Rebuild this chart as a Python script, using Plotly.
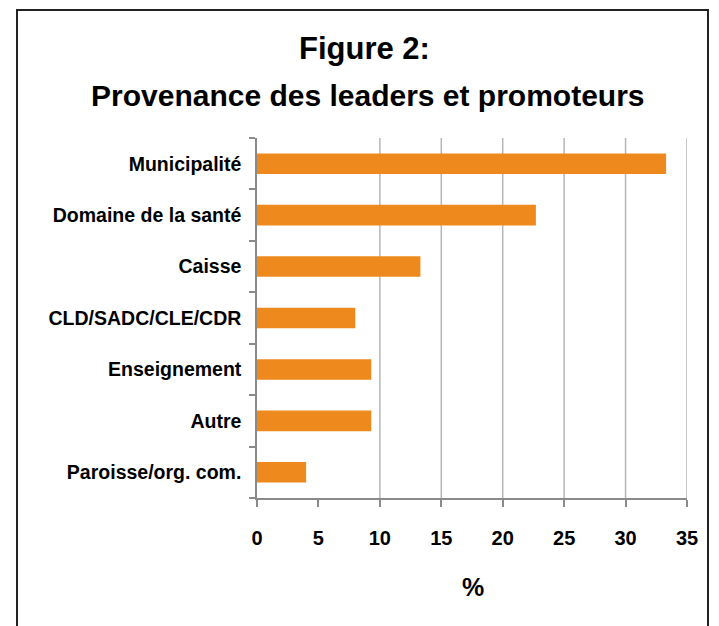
import plotly.graph_objects as go

categories = ["Municipalité", "Domaine de la santé", "Caisse", "CLD/SADC/CLE/CDR",
              "Enseignement", "Autre", "Paroisse/org. com."]
values = [33.3, 22.7, 13.3, 8.0, 9.3, 9.3, 4.0]
x_ticks = [0, 5, 10, 15, 20, 25, 30, 35]
grid_vals = [10, 15, 20, 25, 30, 35]

FONT = "Liberation Sans, Arial, sans-serif"
ORANGE = "#EE8A1D"

OFF = 8  # default page body margin
W, H = 719 - OFF, 626 - OFF
# target plot area in page pixels
PX0, PX1, PY0, PY1 = 257, 687, 138, 498
L = PX0 - OFF
R = W - (PX1 - OFF)
T = PY0 - OFF
B = H - (PY1 - OFF)
pw, ph = PX1 - PX0, PY1 - PY0

def px_x(p):
    return (p - PX0) / pw

def px_y(p):
    return (PY1 - p) / ph

fig = go.Figure(go.Bar(
    x=values, y=categories, orientation="h",
    marker=dict(color=ORANGE, line=dict(width=0)),
    width=0.4,
))

fig.update_layout(
    width=W, height=H,
    margin=dict(l=L, r=R, t=T, b=B, autoexpand=False),
    paper_bgcolor="white", plot_bgcolor="white",
    showlegend=False,
    font=dict(family=FONT, color="black"),
    xaxis=dict(
        range=[0, 35], tickvals=x_ticks, showgrid=False, zeroline=False,
        showline=True, linecolor="#8a8a8a", linewidth=1.5,
        ticks="outside", ticklen=7, tickcolor="#8a8a8a", tickwidth=1.5,
        tickfont=dict(family=FONT, size=20, color="black", weight="bold"),
        ticklabelstandoff=14, automargin=False,
    ),
    yaxis=dict(
        categoryorder="array", categoryarray=categories[::-1],
        showgrid=False, zeroline=False,
        showline=True, linecolor="#8a8a8a", linewidth=1.5,
        ticks="outside", ticklen=6, tickcolor="#8a8a8a", tickwidth=1.5,
        tickson="boundaries",
        tickfont=dict(family=FONT, size=19.5, color="black", weight="bold"),
        ticklabelstandoff=10, automargin=False,
    ),
    annotations=[
        dict(text="<b>Figure 2:</b>", x=px_x(364), y=px_y(48), xref="paper", yref="paper",
             showarrow=False, xanchor="center", yanchor="middle",
             font=dict(family=FONT, size=31, color="black")),
        dict(text="<b>Provenance des leaders et promoteurs</b>", x=px_x(368), y=px_y(95),
             xref="paper", yref="paper", showarrow=False, xanchor="center", yanchor="middle",
             font=dict(family=FONT, size=30, color="black")),
        dict(text="<b>%</b>", x=px_x(473), y=px_y(587), xref="paper", yref="paper",
             showarrow=False, xanchor="center", yanchor="middle",
             font=dict(family=FONT, size=25, color="black")),
    ],
)

for g in grid_vals:
    fig.add_vline(x=g, line=dict(color="#b5b5b5", width=1.5), layer="below")

fig.add_shape(type="rect", xref="paper", yref="paper",
              x0=px_x(17), x1=px_x(708), y0=px_y(660), y1=px_y(10),
              line=dict(color="#222222", width=2), fillcolor="rgba(0,0,0,0)", layer="above")

fig.write_html("out.html")
